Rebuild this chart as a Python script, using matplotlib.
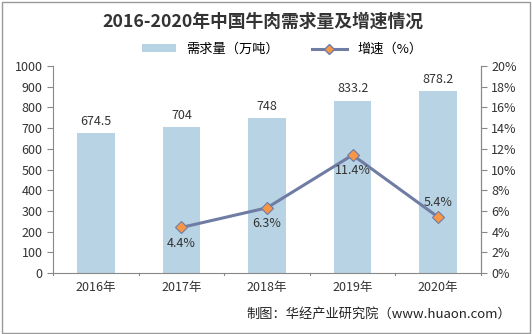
import matplotlib.pyplot as plt
import numpy as np
from matplotlib.patches import Rectangle, Patch
from matplotlib.lines import Line2D

plt.rcParams['font.family'] = ['Noto Sans CJK SC', 'DejaVu Sans']

years = ['2016年', '2017年', '2018年', '2019年', '2020年']
demand = [674.5, 704, 748, 833.2, 878.2]
growth_years = ['2017年', '2018年', '2019年', '2020年']
growth = [4.4, 6.3, 11.4, 5.4]

bar_color = '#B8D3E4'
line_color = '#6F7CA3'
marker_color = '#F79646'
axis_color = '#888888'
text_color = '#333333'

fig = plt.figure(figsize=(5.32, 3.34), dpi=100)
fig.patch.set_facecolor('white')
fig.add_artist(Rectangle((0.003, 0.004), 0.994, 0.99, transform=fig.transFigure,
                         fill=False, edgecolor='#999999', linewidth=1.0))

ax = fig.add_axes([0.0996, 0.1826, 0.8045, 0.6198])
x = np.arange(len(years))
ax.bar(x, demand, width=0.44, color=bar_color, zorder=2)
for xi, v in zip(x, demand):
    ax.text(xi, v + 25, f'{v:g}', ha='center', va='bottom', fontsize=9, color=text_color)

ax.set_xlim(-0.5, len(years) - 0.5)
ax.set_ylim(0, 1000)
ax.set_yticks(np.arange(0, 1001, 100))
ax.set_xticks(x)
ax.set_xticklabels(years)
ax.tick_params(axis='both', labelsize=9, colors=axis_color, labelcolor=text_color,
               direction='out', length=4)
ax.tick_params(axis='x', length=0, pad=6)
# category separators on the x axis
for b in np.arange(-0.5, len(years), 1.0):
    ax.plot([b, b], [0, -12], color=axis_color, lw=0.8, clip_on=False)
ax.spines['top'].set_visible(False)
for s in ['left', 'right', 'bottom']:
    ax.spines[s].set_color(axis_color)
    ax.spines[s].set_linewidth(0.8)

ax2 = ax.twinx()
gx = [years.index(y) for y in growth_years]
ax2.plot(gx, growth, color=line_color, lw=2.2, marker='D', markersize=6,
         markerfacecolor=marker_color, markeredgecolor=line_color,
         markeredgewidth=0.8, zorder=3)
ax2.set_ylim(0, 20)
ax2.set_yticks(np.arange(0, 21, 2))
ax2.set_yticklabels([f'{t}%' for t in range(0, 21, 2)])
ax2.tick_params(axis='y', labelsize=9, colors=axis_color, labelcolor=text_color,
                direction='out', length=4)
for s in ['top', 'left', 'bottom']:
    ax2.spines[s].set_visible(False)
ax2.spines['right'].set_color(axis_color)
ax2.spines['right'].set_linewidth(0.8)

for xi, g in zip(gx, growth):
    if g == growth[-1]:
        ax2.text(xi, g + 0.8, f'{g}%', ha='center', va='bottom', fontsize=9, color=text_color)
    else:
        ax2.text(xi, g - 0.9, f'{g}%', ha='center', va='top', fontsize=9, color=text_color)

fig.text(0.495, 0.935, '2016-2020年中国牛肉需求量及增速情况', ha='center', va='center',
         fontsize=12.8, fontweight='bold', color=text_color)

handles = [Patch(facecolor=bar_color, edgecolor='none'),
           Line2D([0], [0], color=line_color, lw=2.2, marker='D', markersize=5,
                  markerfacecolor=marker_color, markeredgecolor=line_color)]
fig.legend(handles, ['需求量（万吨）', '增速（%）'], loc='center', bbox_to_anchor=(0.53, 0.852),
           ncol=2, frameon=False, fontsize=9.5, handlelength=2.6, columnspacing=2.5,
           handleheight=0.5)

fig.text(0.96, 0.06, '制图：华经产业研究院（www.huaon.com）', ha='right', va='center',
         fontsize=9.5, color='#222222')

fig.savefig('out.png', dpi=100)
